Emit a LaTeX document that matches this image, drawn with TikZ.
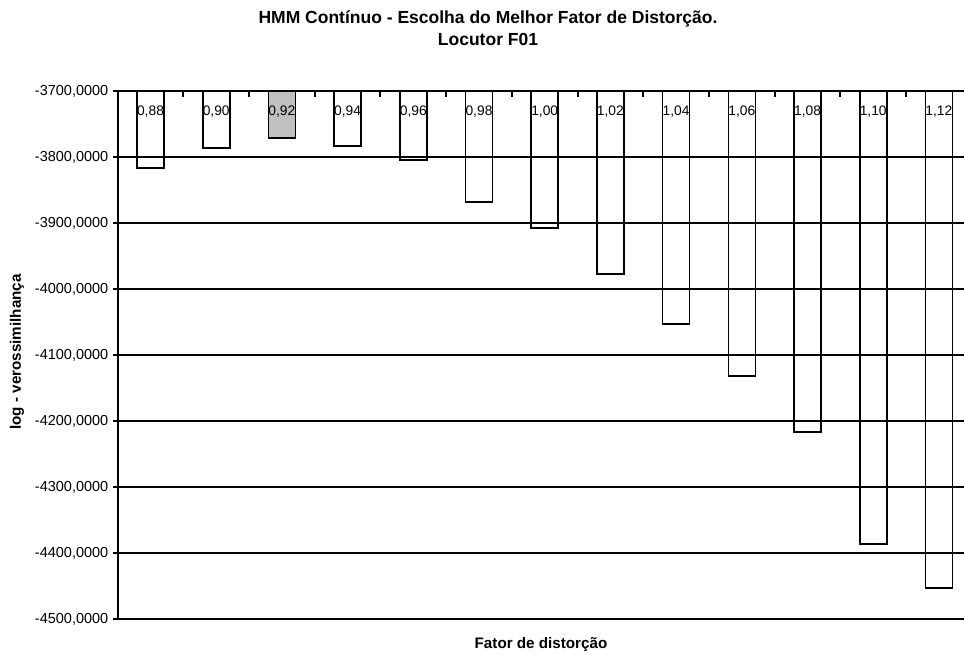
\documentclass[tikz,border=0pt]{standalone}
\usepackage{fontspec}
\setmainfont{Liberation Sans}
\begin{document}
\begin{tikzpicture}[x=1pt,y=-1pt,
  grid/.style={line width=2pt,black},
  barbox/.style={line width=1.6pt,black},
  ylab/.style={anchor=east,inner sep=0pt,font=\fontsize{14.5}{14.5}\selectfont},
  blab/.style={inner sep=0pt,font=\fontsize{13.8}{13.8}\selectfont},
  ttl/.style={inner sep=0pt,font=\fontsize{17.5}{17.5}\selectfont\bfseries},
  axt/.style={inner sep=0pt,font=\fontsize{15.2}{15.2}\selectfont\bfseries}]
\useasboundingbox (0,0) rectangle (964,654);
% bars
\foreach \i/\yb/\lab in {0/167.7/0{,}88,1/147.7/0{,}90,3/145.7/0{,}94,4/159.7/0{,}96,5/201.7/0{,}98,6/228/1{,}00,7/274/1{,}02,8/324/1{,}04,9/376/1{,}06,10/432/1{,}08,11/544/1{,}10,12/587.7/1{,}12}{
  \pgfmathsetmacro{\cx}{150.5+65.7*\i}
  \draw[barbox] (\cx-13.5,91.3) rectangle (\cx+13.5,\yb);
  \node[blab] (b\i) at (\cx,112) {\lab};
}
\pgfmathsetmacro{\cx}{150.5+65.7*2}
\draw[barbox,fill={rgb,255:red,192;green,192;blue,192}] (\cx-13.5,91.3) rectangle (\cx+13.5,137.7);
\node[blab] (b2) at (\cx,112) {0,92};
% grid lines and labels
\foreach \k/\lab in {0/-3700,1/-3800,2/-3900,3/-4000,4/-4100,5/-4200,6/-4300,7/-4400,8/-4500}{
  \pgfmathsetmacro{\yy}{91.3+66*\k}
  \draw[grid] (112.5,\yy) -- (964,\yy);
  \node[ylab] (y\k) at (108.5,\yy) {\lab,0000};
}
% left axis
\draw[grid] (117.65,90.3) -- (117.65,620.3);
% top ticks
\foreach \k in {1,...,12}{
  \pgfmathsetmacro{\xx}{117.65+65.7*\k}
  \draw[line width=2pt] (\xx,91.3) -- (\xx,96.5);
}
% titles
\node[ttl] (t1) at (488,19) {HMM Contínuo - Escolha do Melhor Fator de Distorção.};
\node[ttl] (t2) at (488,39) {Locutor F01};
\node[axt] (xt) at (541,645) {Fator de distorção};
\node[axt,rotate=90] (yt) at (17,352) {log - verossimilhança};
\end{tikzpicture}
\end{document}
